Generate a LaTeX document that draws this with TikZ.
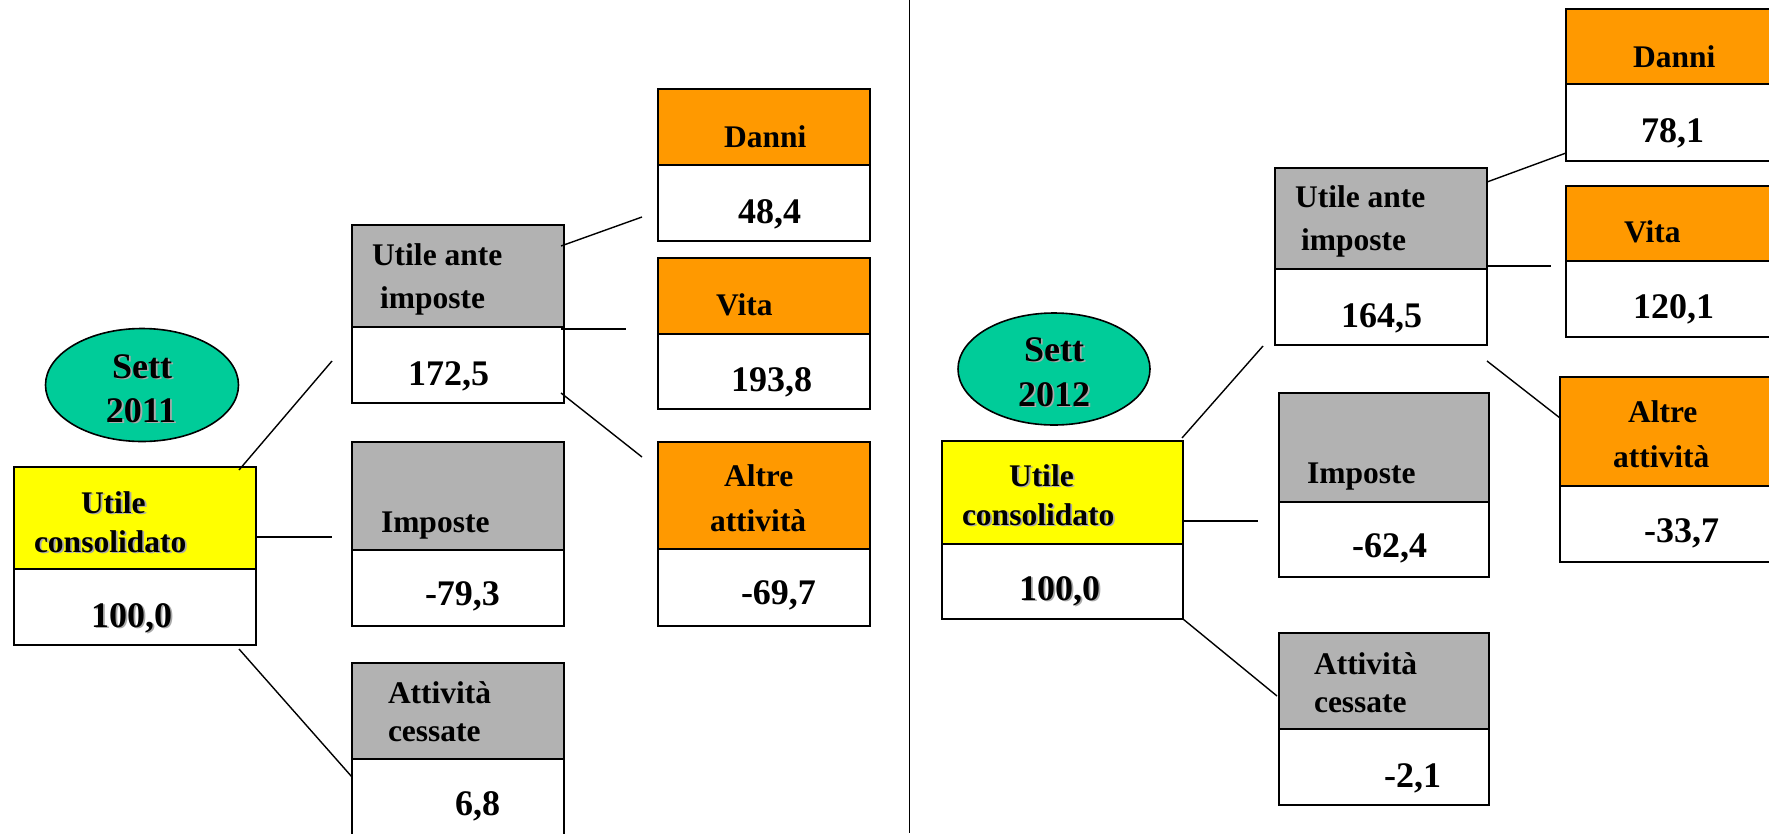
\documentclass[tikz,border=0pt]{standalone}
\usepackage{fontspec}
\setmainfont{Liberation Serif}
\usetikzlibrary{shapes.geometric}
\definecolor{orng}{RGB}{255,153,0}
\definecolor{gry}{RGB}{178,178,178}
\definecolor{yel}{RGB}{255,255,0}
\definecolor{tealg}{RGB}{0,204,153}
\definecolor{shd}{RGB}{170,170,170}
\newcommand\tbox[7]{%
  \node[box, fill=#7, minimum width=#4pt, minimum height=#5pt] (#1h) at (#2,#3) {};
  \node[box, fill=white, minimum width=#4pt, minimum height=#6pt] (#1v) at (#1h.south west) {};
}
\newcommand\shd[1]{\rlap{\hspace{1.8pt}\raisebox{-1.8pt}{\textcolor{shd}{#1}}}#1}
\begin{document}
\begin{tikzpicture}[x=1pt,y=-1pt,
  box/.style={draw=black, line width=2.6pt, rectangle, inner sep=0pt, outer sep=0pt, anchor=north west},
  txt/.style={anchor=base west, inner sep=0pt, outer sep=0pt, font=\fontsize{31.5}{38}\selectfont\bfseries},
  num/.style={anchor=base west, inner sep=0pt, outer sep=0pt, font=\fontsize{36}{42}\selectfont\bfseries},
  ctxt/.style={anchor=base, inner sep=0pt, outer sep=0pt, font=\fontsize{36}{42}\selectfont\bfseries},
  link/.style={line width=1.4pt},
  oval/.style={ellipse, draw=black, line width=1.6pt, fill=tealg, inner sep=0pt}]
\useasboundingbox (0,0) rectangle (1769,833);
\clip (0,0) rectangle (1769,833);
\fill[white] (0,0) rectangle (1769,833);

% divider
\coordinate (divtop) at (909.5,0);
\coordinate (divbot) at (909.5,833);
\draw[line width=1.5pt] (divtop) -- (divbot);

% ---------- left: Sett 2011 ----------
\node[oval, minimum width=193pt, minimum height=113pt] (ovL) at (142,385) {};
\node[ctxt] (ovLa) at (142,378) {\shd{Sett}};
\node[ctxt] (ovLb) at (141,422) {\shd{2011}};

\tbox{lda}{658}{89}{212}{76}{76}{orng}
\tbox{lvi}{658}{258}{212}{76}{75}{orng}
\tbox{lui}{352}{225}{212}{102}{76}{gry}
\tbox{lim}{352}{442}{212}{108}{76}{gry}
\tbox{lal}{658}{442}{212}{107}{77}{orng}
\tbox{lce}{352}{663}{212}{96}{80}{gry}
\tbox{luc}{14}{467}{242}{102}{76}{yel}

\node[txt] (tlda) at (724,147) {Danni};
\node[num] (vlda) at (738,223) {48,4};
\node[txt] (tlvi) at (716,315) {Vita};
\node[num] (vlvi) at (731,391) {193,8};
\node[txt] (tlui1) at (372,265) {Utile ante};
\node[txt] (tlui2) at (380,308) {imposte};
\node[num] (vlui) at (408,385) {172,5};
\node[txt] (tlim) at (381,532) {Imposte};
\node[num] (vlim) at (425,605) {-79,3};
\node[txt] (tlal1) at (724,486) {Altre};
\node[txt] (tlal2) at (710,531) {attività};
\node[num] (vlal) at (741,604) {-69,7};
\node[txt] (tlce1) at (388,703) {Attività};
\node[txt] (tlce2) at (388,741) {cessate};
\node[num] (vlce) at (455,815) {6,8};
\node[txt] (tluc1) at (81,513) {\shd{Utile}};
\node[txt] (tluc2) at (34,552) {\shd{consolidato}};
\node[num] (vluc) at (91,627) {\shd{100,0}};

\coordinate (l1a) at (239,470); \coordinate (l1b) at (332,361);
\coordinate (l2a) at (256,537); \coordinate (l2b) at (332,537);
\coordinate (l3a) at (239,649); \coordinate (l3b) at (352,777);
\coordinate (l4a) at (561,246); \coordinate (l4b) at (642,217);
\coordinate (l5a) at (561,329); \coordinate (l5b) at (626,329);
\coordinate (l6a) at (561,393); \coordinate (l6b) at (642,457);
\foreach \i in {1,...,6} {\draw[link] (l\i a) -- (l\i b);}

% ---------- right: Sett 2012 ----------
\node[oval, minimum width=192pt, minimum height=112pt] (ovR) at (1054,369) {};
\node[ctxt] (ovRa) at (1054,361) {\shd{Sett}};
\node[ctxt] (ovRb) at (1054,406) {\shd{2012}};

\tbox{rda}{1566}{9}{212}{75}{77}{orng}
\tbox{rvi}{1566}{186}{212}{75}{76}{orng}
\tbox{rui}{1275}{168}{212}{101}{76}{gry}
\tbox{rim}{1279}{393}{210}{109}{75}{gry}
\tbox{ral}{1560}{377}{212}{109}{76}{orng}
\tbox{rce}{1279}{633}{210}{96}{76}{gry}
\tbox{ruc}{942}{441}{241}{103}{75}{yel}

\node[txt] (trda) at (1633,67) {Danni};
\node[num] (vrda) at (1641,142) {78,1};
\node[txt] (trvi) at (1624,242) {Vita};
\node[num] (vrvi) at (1633,318) {120,1};
\node[txt] (trui1) at (1295,207) {Utile ante};
\node[txt] (trui2) at (1301,250) {imposte};
\node[num] (vrui) at (1341,327) {164,5};
\node[txt] (trim) at (1307,483) {Imposte};
\node[num] (vrim) at (1352,557) {-62,4};
\node[txt] (tral1) at (1628,422) {Altre};
\node[txt] (tral2) at (1613,467) {attività};
\node[num] (vral) at (1644,542) {-33,7};
\node[txt] (trce1) at (1314,674) {Attività};
\node[txt] (trce2) at (1314,712) {cessate};
\node[num] (vrce) at (1384,787) {-2,1};
\node[txt] (truc1) at (1009,486) {\shd{Utile}};
\node[txt] (truc2) at (962,525) {\shd{consolidato}};
\node[num] (vruc) at (1019,600) {\shd{100,0}};

\coordinate (r1a) at (1182,438); \coordinate (r1b) at (1263,346);
\coordinate (r2a) at (1183,521); \coordinate (r2b) at (1258,521);
\coordinate (r3a) at (1183,619); \coordinate (r3b) at (1277,696);
\coordinate (r4a) at (1487,182); \coordinate (r4b) at (1566,153);
\coordinate (r5a) at (1487,266); \coordinate (r5b) at (1551,266);
\coordinate (r6a) at (1487,361); \coordinate (r6b) at (1560,418);
\foreach \i in {1,...,6} {\draw[link] (r\i a) -- (r\i b);}
\end{tikzpicture}
\end{document}
